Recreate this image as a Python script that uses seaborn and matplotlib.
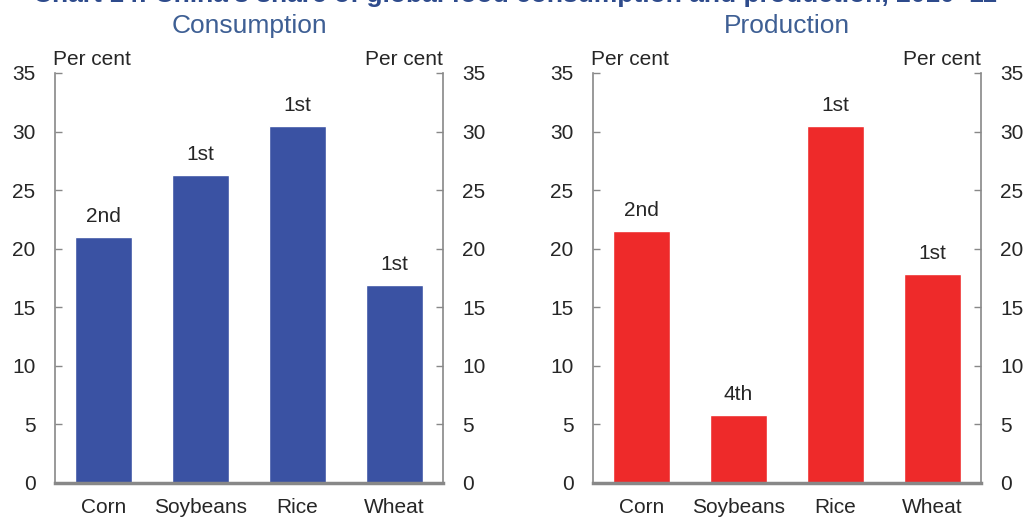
import matplotlib
matplotlib.use("Agg")
import matplotlib.pyplot as plt
import seaborn as sns
import pandas as pd
from matplotlib.ticker import FixedLocator

crops = ["Corn", "Soybeans", "Rice", "Wheat"]
consumption = [21.0, 26.3, 30.5, 16.9]
production = [21.5, 5.8, 30.5, 17.8]
consumption_rank = ["2nd", "1st", "1st", "1st"]
production_rank = ["2nd", "4th", "1st", "1st"]
y_ticks = [0, 5, 10, 15, 20, 25, 30, 35]

sns.set_style("white")
plt.rcParams["font.family"] = ["Liberation Sans", "DejaVu Sans"]

fig = plt.figure(figsize=(10.3, 5.18), dpi=100)
ax1 = fig.add_axes([55 / 1030, 35 / 518, 388 / 1030, 410 / 518])
ax2 = fig.add_axes([593 / 1030, 35 / 518, 388 / 1030, 410 / 518])

# main title sits mostly above the top edge, as in the source image
fig.text(0.5, 1 - 2 / 518, "Chart 14: China's share of global food consumption and production, 2010\u201311",
         ha="center", va="baseline", fontsize=19, fontweight="bold", color="#2E4B8C")

panels = [
    (ax1, consumption, consumption_rank, "#3A52A3", "Consumption"),
    (ax2, production, production_rank, "#EE2A2A", "Production"),
]

for ax, vals, ranks, col, title in panels:
    df = pd.DataFrame({"crop": crops, "share": vals})
    sns.barplot(data=df, x="crop", y="share", color=col, width=0.58,
                saturation=1, ax=ax)
    for i, (v, r) in enumerate(zip(vals, ranks)):
        ax.annotate(r, (i, v), xytext=(0, 8), textcoords="offset points",
                    ha="center", va="bottom", fontsize=15)
    ax.set_ylim(0, 35)
    ax.set_xlim(-0.5, 3.5)
    ax.set_yticks(y_ticks)
    ax.set_xlabel("")
    ax.set_ylabel("")
    ax.tick_params(axis="y", direction="in", left=True, right=True,
                   labelleft=True, labelright=True, length=5, width=1,
                   color="#888888", labelsize=15, pad=14)
    ax.tick_params(axis="x", which="major", length=0, labelsize=15, pad=11)
    ax.xaxis.set_minor_locator(FixedLocator([0.5, 1.5, 2.5]))
    ax.tick_params(axis="x", which="minor", direction="in", length=5,
                   width=1, color="#888888")
    for s in ["left", "right"]:
        ax.spines[s].set_color("#888888")
        ax.spines[s].set_linewidth(1.2)
    ax.spines["top"].set_visible(False)
    ax.spines["bottom"].set_color("#888888")
    ax.spines["bottom"].set_linewidth(2.5)
    ax.text(-0.005, 1.01, "Per cent", transform=ax.transAxes, ha="left",
            va="bottom", fontsize=15)
    ax.text(1.0, 1.01, "Per cent", transform=ax.transAxes, ha="right",
            va="bottom", fontsize=15)
    ax.text(0.5, 1.085, title, transform=ax.transAxes, ha="center",
            va="bottom", fontsize=19, color="#3E5F94")

fig.savefig("out.png", dpi=100)
